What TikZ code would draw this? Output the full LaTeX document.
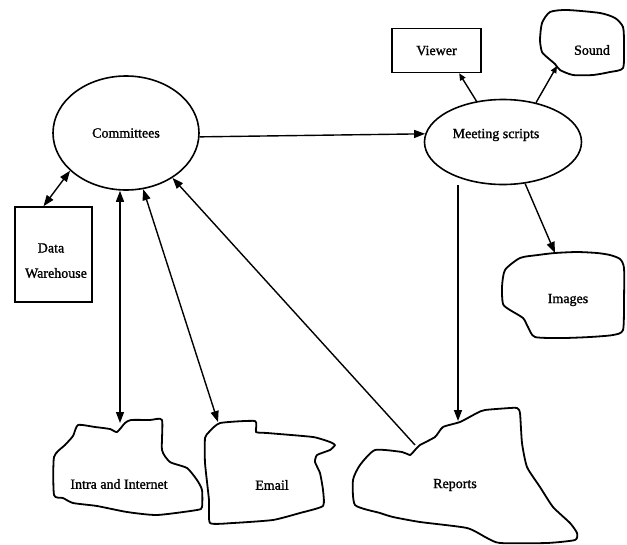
\documentclass[tikz,border=0pt]{standalone}
\usepackage{fontspec}
\setmainfont[FakeBold=1.2]{Liberation Serif}
\usetikzlibrary{shapes.geometric,arrows.meta,calc}
\begin{document}
\begin{tikzpicture}[x=1pt,y=-1pt,
  lbl/.style={font=\fontsize{14}{16}\selectfont, inner sep=0pt},
  shp/.style={draw=black, line width=1.8pt, line join=round},
  ell/.style={ellipse, draw=black, line width=1.6pt, inner sep=0pt, font=\fontsize{14}{16}\selectfont},
  box/.style={rectangle, draw=black, line width=1.6pt, inner sep=0pt},
  arr/.style={line width=1.4pt, -{Triangle[length=11pt,width=8pt]}},
  darr/.style={line width=1.4pt, {Triangle[length=11pt,width=8pt]}-{Triangle[length=11pt,width=8pt]}},
  sarr/.style={line width=1.4pt, -{Triangle[length=7pt,width=6pt]}}]
\useasboundingbox (0,0) rectangle (627,544);
\fill[white] (0,0) rectangle (627,544);

% ellipses
\node[ell, minimum width=146pt, minimum height=114pt] (Comm) at (126,133) {Committees};
\node[ell, minimum width=157pt, minimum height=85pt] (Meet) at (503,142) {};
\node[lbl] (MeetT) at (496,135) {Meeting scripts};

% rectangles
\node[box, minimum width=77pt, minimum height=95pt] (DW) at (53.5,254.5) {};
\node[lbl] (DWa) at (51,248) {Data};
\node[lbl] (DWb) at (56,273) {Warehouse};
\node[box, minimum width=89pt, minimum height=44pt, lbl] (View) at (436.5,50.5) {Viewer};

% clouds
\draw[shp] plot[smooth cycle, tension=0.4] coordinates {
 (550,12) (567,10) (600,13) (615,18) (623,27) (624,45) (623,68) (610,72)
 (593,75) (573,75) (560,70) (555,64) (548,58) (542,52) (540,40) (542,23)};
\node[lbl] (Sound) at (592,50) {Sound};

\draw[shp] plot[smooth cycle, tension=0.4] coordinates {
 (505,270) (520,258) (538,255) (555,253) (577,252) (597,253) (610,255) (620,259)
 (624,268) (624,300) (623,330) (613,335) (590,337) (563,338) (535,337) (528,327)
 (523,318) (510,310) (503,304) (502,287)};
\node[lbl] (Img) at (568,300) {Images};

\draw[shp] plot[smooth cycle, tension=0.35] coordinates {
 (78,425) (95,427) (110,429) (117,432) (125,423) (131,420) (150,420) (162,420)
 (162,450) (170,462) (187,468) (197,480) (202,490) (202,507) (197,510) (157,515)
 (127,512) (97,506) (73,503) (63,498) (54,495) (54,457) (65,445) (73,436)};
\node[lbl] (Intra) at (119,484) {Intra and Internet};

\draw[shp] plot[smooth cycle, tension=0.3] coordinates {
 (220,423) (255,421) (256,432) (267,433) (313,437) (330,442) (335,445) (330,450)
 (317,455) (315,462) (320,473) (323,490) (323,506) (300,513) (273,520) (233,523)
 (210,523) (209,500) (205,463) (205,438) (209,432)};
\node[lbl] (Email) at (272,485) {Email};

\draw[shp] plot[smooth cycle, tension=0.35] coordinates {
 (375,450) (402,452) (410,455) (415,450) (420,445) (435,437) (443,427) (460,422)
 (477,413) (485,410) (510,408) (517,408) (520,413) (522,443) (527,467) (540,487)
 (553,507) (570,523) (577,533) (575,540) (547,543) (500,543) (487,538) (467,528)
 (420,522) (393,517) (380,513) (355,505) (353,480) (360,465)};
\node[lbl] (Rep) at (455,485) {Reports};

% connector end points on the outlines
\coordinate (itop) at (120,423);
\coordinate (etop) at (218,422);
\coordinate (rtop) at (458,421);
\coordinate (rfrom) at (415,445);
\coordinate (stip) at (557,66);
\coordinate (imtip) at (555,253);

% connectors
\draw[arr] (Comm.-3) -- (Meet.174);
\draw[darr] (Comm.214) -- ($(DW.north)+(-10,0)$);
\draw[darr] (Comm.south -| itop) -- (itop);
\draw[darr] (Comm.-73) -- (etop);
\draw[arr] (rfrom) -- (Comm.-44);
\draw[sarr] (Meet.123) -- ($(View.south)!0.5!(View.south east)$);
\draw[sarr] (Meet.50) -- (stip);
\draw[arr] (Meet.-62) -- (imtip);
\draw[arr] (Meet.south -| rtop) -- (rtop);
\end{tikzpicture}
\end{document}
